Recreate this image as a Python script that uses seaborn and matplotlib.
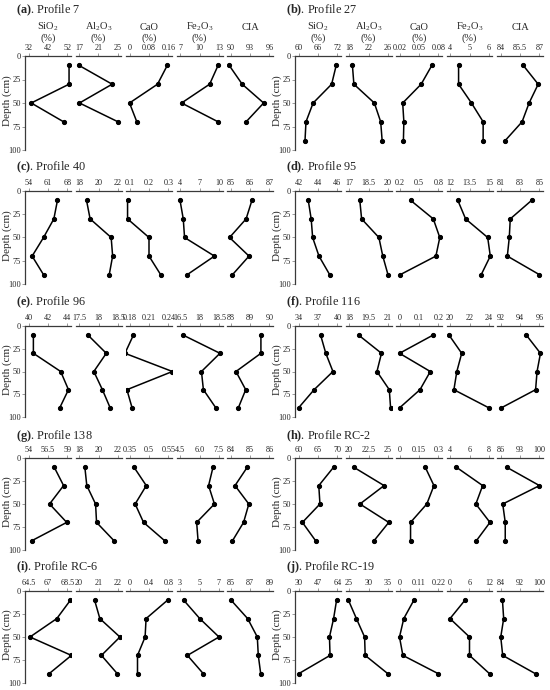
import matplotlib
matplotlib.use("Agg")
import matplotlib.pyplot as plt
import seaborn as sns

sns.set_style("white")
plt.rcParams["font.family"] = ["Liberation Serif", "DejaVu Serif"]
plt.rcParams["mathtext.fontset"] = "custom"
plt.rcParams["mathtext.rm"] = "Liberation Serif"
plt.rcParams["mathtext.bf"] = "Liberation Serif:bold"

# profiles, in panel order (a)..(j)
profiles = ["7", "27", "40", "95", "96", "116", "138", "RC-2", "RC-6", "RC-19"]
letters = ["a", "b", "c", "d", "e", "f", "g", "h", "i", "j"]
depth = [10, 30, 50, 70, 90]

headers = ["SiO$_2$", "Al$_2$O$_3$", "CaO", "Fe$_2$O$_3$", "CIA"]
units = ["(%)", "(%)", "(%)", "(%)", ""]

sio2 = [[52.8, 52.8, 33.4, 50.0], [71.6, 70.2, 64.5, 62.3, 62.0],
        [64.4, 63.1, 59.4, 55.3, 59.4], [43.0, 43.3, 43.45, 44.1, 45.2],
        [40.5, 40.5, 43.3, 44.1, 43.2], [37.4, 38.2, 39.3, 36.4, 34.0],
        [57.3, 58.5, 56.7, 58.9, 54.4], [69.0, 65.2, 65.5, 61.0, 64.4],
        [68.8, 67.4, 64.65, 68.9, 66.6], [63.2, 60.6, 57.0, 57.5, 30.0]]
al2o3 = [[17.0, 23.8, 17.1, 25.0], [18.7, 19.0, 23.2, 24.5, 24.8],
         [18.77, 19.14, 21.3, 21.45, 21.1], [17.83, 17.97, 19.3, 19.6, 20.0],
         [17.73, 18.2, 17.88, 18.1, 18.3], [18.74, 20.5, 20.15, 21.1, 21.2],
         [18.6, 18.8, 19.7, 19.8, 21.6], [20.6, 24.5, 21.4, 25.1, 23.2],
         [20.8, 21.07, 22.1, 21.15, 21.97], [24.85, 26.9, 29.0, 29.15, 35.0]]
cao = [[0.155, 0.115, 0.0, 0.03], [0.0698, 0.0533, 0.0249, 0.0267, 0.026],
       [0.09, 0.09, 0.2, 0.2, 0.26], [0.37, 0.72, 0.82, 0.76, 0.21],
       [0.186, 0.173, 0.246, 0.176, 0.184], [0.172, 0.0, 0.158, 0.105, 0.0],
       [0.373, 0.436, 0.379, 0.422, 0.531], [0.198, 0.265, 0.21, 0.085, 0.085],
       [0.78, 0.34, 0.32, 0.164, 0.164], [0.081, 0.024, 0.0, 0.019, 0.22]]
fe2o3 = [[12.86, 11.56, 7.24, 12.86], [4.44, 4.44, 5.1, 5.7, 5.7],
         [4.0, 4.5, 4.7, 9.3, 5.1], [12.6, 13.2, 14.9, 15.1, 14.4],
         [16.66, 18.55, 17.6, 17.7, 18.34], [19.9, 21.2, 20.7, 20.4, 24.0],
         [7.04, 6.7, 7.15, 5.78, 5.89], [4.65, 7.35, 6.65, 8.1, 6.7],
         [3.38, 5.03, 7.0, 3.76, 5.4], [4.6, 0.0, 6.0, 6.0, 12.2]]
cia = [[89.8, 91.8, 95.1, 92.4], [85.75, 86.9, 86.2, 85.66, 84.36],
       [86.1, 85.8, 84.95, 85.95, 85.1], [84.2, 82.0, 81.9, 81.7, 85.0],
       [89.56, 89.56, 88.28, 88.78, 88.4], [94.65, 96.1, 95.75, 95.6, 92.07],
       [84.86, 84.23, 84.94, 84.67, 84.1], [88.2, 100.0, 86.8, 87.7, 87.7],
       [85.06, 86.76, 87.75, 87.85, 88.1], [84.8, 85.3, 84.1, 84.9, 98.4]]

sio2_ticks = [["32", "42", "52"], ["60", "66", "72"], ["54", "61", "68"], ["42", "44", "46"],
              ["40", "42", "44"], ["34", "37", "40"], ["54", "56.5", "59"], ["60", "65", "70"],
              ["64.5", "67", "68.5"], ["30", "47", "64"]]
al2o3_ticks = [["17", "21", "25"], ["18", "22", "26"], ["18", "20", "22"], ["17", "18.5", "20"],
               ["17.5", "18", "18.5"], ["18", "19.5", "21"], ["18", "20", "22"], ["20", "22.5", "25"],
               ["20", "21", "22"], ["25", "30", "35"]]
cao_ticks = [["0", "0.08", "0.16"], ["0.02", "0.05", "0.08"], ["0.1", "0.2", "0.3"], ["0.2", "0.5", "0.8"],
             ["0.18", "0.21", "0.24"], ["0", "0.1", "0.2"], ["0.35", "0.5", "0.55"], ["0", "0.15", "0.3"],
             ["0", "0.4", "0.8"], ["0", "0.11", "0.22"]]
fe2o3_ticks = [["7", "10", "13"], ["4", "5", "6"], ["4", "7", "10"], ["12", "13.5", "15"],
               ["16.5", "18", "18.5"], ["20", "22", "24"], ["4.5", "6.0", "7.5"], ["4", "6", "8"],
               ["3", "5", "7"], ["0", "6", "12"]]
cia_ticks = [["90", "93", "96"], ["84", "85.5", "87"], ["85", "86", "87"], ["81", "83", "85"],
             ["88", "89", "90"], ["92", "94", "96"], ["84", "85", "86"], ["86", "93", "100"],
             ["85", "87", "89"], ["84", "92", "100"]]

series = [sio2, al2o3, cao, fe2o3, cia]
ticks = [sio2_ticks, al2o3_ticks, cao_ticks, fe2o3_ticks, cia_ticks]

W, H = 550, 690
fig = plt.figure(figsize=(W / 100, H / 100), dpi=100)

row_top = [56, 191, 326, 458, 591]
row_h = [94, 93, 91, 92, 92]
title_y = [10, 167, 302, 436, 567]
col_left = [25, 295]
sub_w, pitch = 46, 50.5
spine_col = "#3a3a3a"

for p in range(len(profiles)):
    r, c = p // 2, p % 2
    top, h = row_top[r], row_h[r]
    # panel title
    fig.text((col_left[c] - 9) / W, 1 - title_y[r] / H,
             r"$\mathbf{(" + letters[p] + ")}$. Profile " + profiles[p],
             fontsize=8.8, va="center", ha="left")
    # depth label
    fig.text((col_left[c] - 17.5) / W, 1 - (top + h / 2 - 2) / H, "Depth (cm)",
             rotation=90, fontsize=8, ha="center", va="center")
    for k in range(5):
        x0 = col_left[c] + k * pitch
        ax = fig.add_axes([x0 / W, 1 - (top + h) / H, sub_w / W, h / H])
        vals = series[k][p]
        sns.lineplot(x=vals, y=depth[:len(vals)], orient="y", estimator=None, sort=False,
                     marker="o", markersize=3.0, color="black", linewidth=1.1,
                     markeredgecolor="black", ax=ax)
        labs = ticks[k][p]
        lo, hi = float(labs[0]), float(labs[-1])
        pad = 0.09 * (hi - lo)
        ax.set_xlim(lo - pad, hi + pad)
        ax.set_xticks([lo, (lo + hi) / 2, hi])
        ax.set_xticklabels(labs)
        ax.xaxis.tick_top()
        ax.set_ylim(100, 0)
        ax.set_xlabel("")
        ax.set_ylabel("")
        ax.spines["bottom"].set_visible(False)
        ax.spines["right"].set_visible(False)
        ax.spines["top"].set_color(spine_col)
        ax.spines["top"].set_linewidth(0.9)
        ax.tick_params(axis="x", which="both", top=True, bottom=False, direction="out",
                       length=2, width=0.6, color="#888888", pad=1, labelsize=5.9)
        if k == 0:
            ax.spines["left"].set_color(spine_col)
            ax.spines["left"].set_linewidth(0.9)
            ax.set_yticks([0, 25, 50, 75, 100])
            ax.tick_params(axis="y", left=True, direction="out", length=2, width=0.6,
                           color="#888888", pad=1, labelsize=6.0)
        else:
            ax.spines["left"].set_visible(False)
            ax.set_yticks([])
        ax.set_facecolor("none")
        if r == 0:
            cx = (x0 + sub_w / 2) / W
            fig.text(cx, 1 - 27 / H, headers[k], fontsize=7.5, ha="center", va="center")
            if units[k]:
                fig.text(cx, 1 - 38 / H, units[k], fontsize=7.5, ha="center", va="center")

fig.savefig("out.png", dpi=100, facecolor="white")
